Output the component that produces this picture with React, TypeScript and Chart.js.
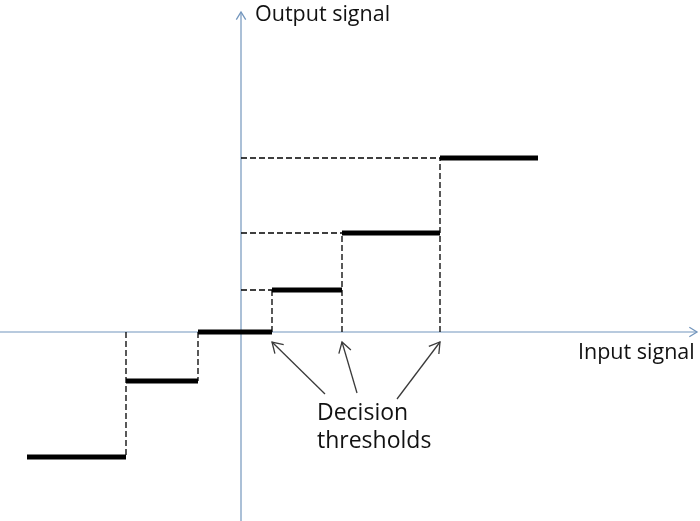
import React, { useEffect, useRef } from "react";
import { Chart, registerables } from "chart.js";
Chart.register(...registerables);

// Quantizer description (data units)
const thresholds = [-11.5, -4.3, 3.1, 10.1, 19.9];
const levels = [-12.5, -4.9, 0, 4.2, 9.9, 17.4];
const inputRange = [-21.4, 29.7];
// Axis extents
const axisXRange = [-24.1, 45.6];
const axisYRange = [-18.9, 32];
const viewX = [-24.1, 45.9];
const viewY = [-18.9, 33.2];
// Annotation arrows (tails), tips sit just below each positive threshold
const arrowTails = [
  [8.4, -6.2],
  [11.6, -6.1],
  [15.6, -6.7],
];
const arrowTipY = -1.0;
const axisTitles = [
  { text: "Output signal", x: 1.4, y: 31.1 },
  { text: "Input signal", x: 33.7, y: -2.7 },
];
const noteLines = ["Decision", "thresholds"];
const noteX = 7.6;
const noteY = [-8.8, -11.6];

const AXIS_COLOR = "#7396bd";
const ARROW_COLOR = "#3a3a3a";

export default function App() {
  const ref = useRef<HTMLCanvasElement | null>(null);
  useEffect(() => {
    if (!ref.current) return;
    const datasets: any[] = [];
    const seg = (pts: number[][], style: any) =>
      datasets.push({
        data: pts.map(([x, y]) => ({ x, y })),
        showLine: true,
        pointRadius: 0,
        fill: false,
        ...style,
      });

    // steps
    for (let i = 0; i < levels.length; i++) {
      const start = i === 0 ? inputRange[0] : thresholds[i - 1];
      const end = i === levels.length - 1 ? inputRange[1] : thresholds[i];
      seg(
        [
          [start, levels[i]],
          [end, levels[i]],
        ],
        { borderColor: "#000", borderWidth: 5, order: 0, borderCapStyle: "butt" }
      );
    }
    // dashed verticals
    thresholds.forEach((t, i) => {
      const far = t < 0 ? levels[i] : levels[i + 1];
      seg(
        [
          [t, 0],
          [t, far],
        ],
        { borderColor: "#000", borderWidth: 1.3, borderDash: [6, 3], order: 1 }
      );
    });
    // dashed horizontals for positive levels
    thresholds.forEach((t, i) => {
      const lv = levels[i + 1];
      if (t > 0 && lv > 0) {
        seg(
          [
            [0, lv],
            [t, lv],
          ],
          { borderColor: "#000", borderWidth: 1.3, borderDash: [6, 3], order: 1 }
        );
      }
    });
    // arrows
    const positive = thresholds.filter((t) => t > 0);
    arrowTails.forEach((tail, i) => {
      seg([tail, [positive[i], arrowTipY]], {
        borderColor: ARROW_COLOR,
        borderWidth: 1.3,
        order: 2,
      });
    });
    // axes
    seg(
      [
        [axisXRange[0], 0],
        [axisXRange[1], 0],
      ],
      { borderColor: AXIS_COLOR, borderWidth: 1.2, order: 10 }
    );
    seg(
      [
        [0, axisYRange[0]],
        [0, axisYRange[1]],
      ],
      { borderColor: AXIS_COLOR, borderWidth: 1.2, order: 10 }
    );

    const overlay = {
      id: "overlay",
      afterDatasetsDraw(chart: any) {
        const { ctx, scales } = chart;
        const px = (v: number) => scales.x.getPixelForValue(v);
        const py = (v: number) => scales.y.getPixelForValue(v);
        const head = (x1: number, y1: number, x2: number, y2: number, color: string, len: number) => {
          const a = Math.atan2(y2 - y1, x2 - x1);
          ctx.save();
          ctx.strokeStyle = color;
          ctx.lineWidth = 1.3;
          ctx.beginPath();
          ctx.moveTo(x2 - len * Math.cos(a - 0.55), y2 - len * Math.sin(a - 0.55));
          ctx.lineTo(x2, y2);
          ctx.lineTo(x2 - len * Math.cos(a + 0.55), y2 - len * Math.sin(a + 0.55));
          ctx.stroke();
          ctx.restore();
        };
        head(px(0), py(axisYRange[0]), px(0), py(axisYRange[1]), AXIS_COLOR, 9);
        head(px(axisXRange[0]), py(0), px(axisXRange[1]), py(0), AXIS_COLOR, 9);
        arrowTails.forEach((tail, i) => {
          head(px(tail[0]), py(tail[1]), px(positive[i]), py(arrowTipY), ARROW_COLOR, 12);
        });
        ctx.save();
        ctx.fillStyle = "#111";
        ctx.textBaseline = "alphabetic";
        ctx.textAlign = "left";
        ctx.font = "21.5px 'Open Sans'";
        axisTitles.forEach((t) => ctx.fillText(t.text, px(t.x), py(t.y)));
        ctx.font = "23px 'Open Sans'";
        noteLines.forEach((t, i) => ctx.fillText(t, px(noteX), py(noteY[i])));
        ctx.restore();
      },
    };

    const chart = new Chart(ref.current, {
      type: "scatter",
      data: { datasets },
      options: {
        animation: false,
        responsive: false,
        layout: { padding: 0 },
        plugins: { legend: { display: false }, tooltip: { enabled: false } },
        scales: {
          x: { type: "linear", display: false, min: viewX[0], max: viewX[1] },
          y: { type: "linear", display: false, min: viewY[0], max: viewY[1] },
        },
      },
      plugins: [overlay],
    });
    return () => chart.destroy();
  }, []);
  return (
    <div style={{ position: "fixed", left: 0, top: 0, width: 700, height: 521, background: "#fff" }}>
      <canvas ref={ref} width={700} height={521} style={{ width: 700, height: 521, display: "block" }} />
    </div>
  );
}
